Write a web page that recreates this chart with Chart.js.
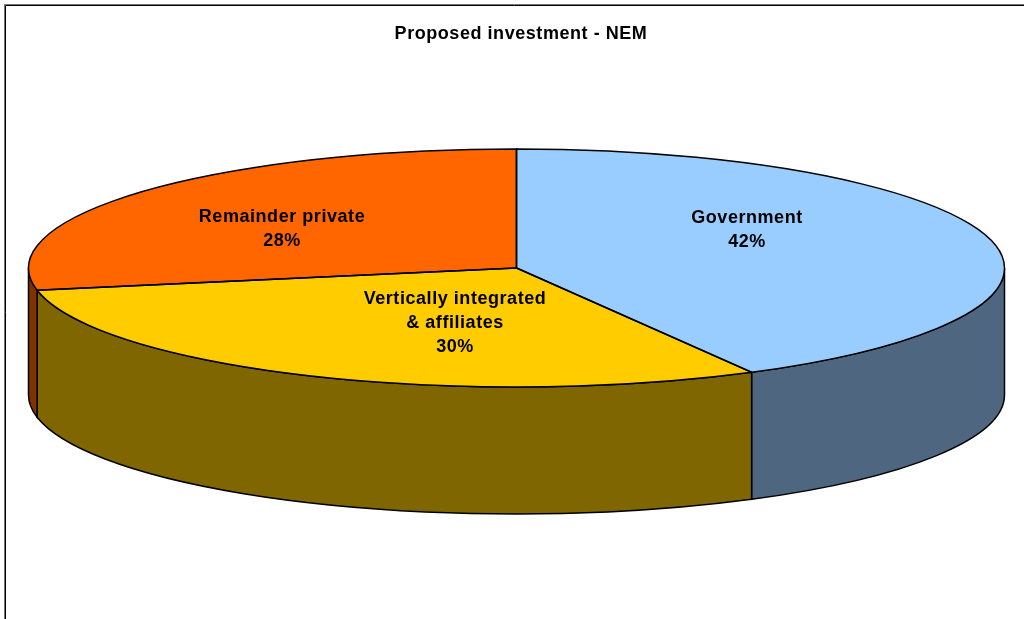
<!DOCTYPE html>
<html>
<head>
<meta charset="utf-8">
<style>
  html, body { margin: 0; padding: 0; background: #fff; }
  #wrap { width: 1024px; height: 619px; }
</style>
<script src="https://cdn.jsdelivr.net/npm/chart.js@4"></script>
</head>
<body>
<div id="wrap"><canvas id="pie" width="1024" height="619"></canvas></div>
<script>
const chartTitle = 'Proposed investment - NEM';
const categories = ['Government', 'Vertically integrated & affiliates', 'Remainder private'];
const shares = [42, 30, 28];
const labelLines = [['Government', '42%'], ['Vertically integrated', '& affiliates', '30%'], ['Remainder private', '28%']];
const topColors = ['#99CCFF', '#FFCC00', '#FF6600'];
const wallColors = ['#4F6680', '#806600', '#803300'];

// Tilted-disc geometry: the library lays the wedges out on a circle of this
// radius, and the plugins squash it vertically and extrude the rim downward.
const RADIUS = 488;
const SQUASH = 119 / 488;
const DEPTH = 127;
const LABEL_OFFSETS = [[230.5, -37.5], [-61.5, 55.5], [-234.5, -38.5]];
const LINE_GAP = 24;
const FONT = 'bold 18px "Liberation Sans", Arial, sans-serif';
const TRACKING = '0.55px';
const OUTLINE = 1.5;

const arcs = chart => chart.getDatasetMeta(0).data;

function wedgePath(ctx, a) {
  ctx.beginPath();
  ctx.moveTo(a.x, a.y);
  ctx.ellipse(a.x, a.y, RADIUS, RADIUS * SQUASH, 0, a.startAngle, a.endAngle);
  ctx.closePath();
}

// Only the rim between angle 0 and PI faces the viewer.
function wallPath(ctx, a, from, to) {
  const ry = RADIUS * SQUASH;
  ctx.beginPath();
  ctx.ellipse(a.x, a.y, RADIUS, ry, 0, from, to);
  ctx.lineTo(a.x + RADIUS * Math.cos(to), a.y + ry * Math.sin(to) + DEPTH);
  ctx.ellipse(a.x, a.y + DEPTH, RADIUS, ry, 0, to, from, true);
  ctx.closePath();
}

const framePlugin = {
  id: 'frame',
  afterLayout(chart) {
    // The heading sits a little right of the disc's centre.
    chart.titleBlock.left += 9;
  },
  beforeDraw(chart) {
    const ctx = chart.ctx;
    ctx.save();
    ctx.lineWidth = 1;
    ctx.strokeStyle = '#777';
    ctx.beginPath();
    ctx.moveTo(4.5, 619); ctx.lineTo(4.5, 4.5); ctx.lineTo(1024, 4.5);
    ctx.stroke();
    ctx.strokeStyle = '#000';
    ctx.beginPath();
    ctx.moveTo(5.5, 619); ctx.lineTo(5.5, 5.5); ctx.lineTo(1024, 5.5);
    ctx.stroke();
    ctx.restore();
    ctx.letterSpacing = TRACKING;
  }
};

const discPlugin = {
  id: 'disc',
  beforeDatasetsDraw(chart) {
    const ctx = chart.ctx;
    arcs(chart).forEach((a, i) => {
      const from = Math.max(a.startAngle, 0);
      const to = Math.min(a.endAngle, Math.PI);
      if (to <= from) return;
      ctx.save();
      wallPath(ctx, a, from, to);
      ctx.fillStyle = wallColors[i];
      ctx.strokeStyle = '#000';
      ctx.lineWidth = OUTLINE;
      ctx.fill();
      ctx.stroke();
      ctx.restore();
    });
    const first = arcs(chart)[0];
    ctx.save();
    ctx.translate(first.x, first.y);
    ctx.scale(1, SQUASH);
    ctx.translate(-first.x, -first.y);
  },
  afterDatasetsDraw(chart) {
    const ctx = chart.ctx;
    ctx.restore();
    arcs(chart).forEach(a => {
      ctx.save();
      wedgePath(ctx, a);
      ctx.strokeStyle = '#000';
      ctx.lineWidth = OUTLINE;
      ctx.stroke();
      ctx.restore();
    });
  }
};

const labelPlugin = {
  id: 'sliceLabels',
  afterDraw(chart) {
    const ctx = chart.ctx;
    ctx.save();
    ctx.font = FONT;
    ctx.fillStyle = '#000';
    ctx.textAlign = 'center';
    ctx.textBaseline = 'middle';
    arcs(chart).forEach((a, i) => {
      const lines = labelLines[i];
      const x = a.x + LABEL_OFFSETS[i][0];
      const top = a.y + LABEL_OFFSETS[i][1] - (lines.length - 1) * LINE_GAP / 2;
      lines.forEach((line, n) => ctx.fillText(line, x, top + n * LINE_GAP));
    });
    ctx.restore();
  }
};

new Chart(document.getElementById('pie'), {
  type: 'pie',
  data: {
    labels: categories,
    datasets: [{
      data: shares,
      backgroundColor: topColors,
      borderWidth: 0,
      hoverOffset: 0
    }]
  },
  options: {
    responsive: false,
    animation: false,
    radius: RADIUS,
    layout: { padding: { left: 9, right: 0, top: 0, bottom: 133 } },
    plugins: {
      legend: { display: false },
      tooltip: { enabled: false },
      title: {
        display: true,
        text: chartTitle,
        color: '#000',
        font: { family: '"Liberation Sans", Arial, sans-serif', size: 18, weight: 'bold', lineHeight: 1.2 },
        padding: { top: 23, bottom: 5.4 }
      }
    }
  },
  plugins: [framePlugin, discPlugin, labelPlugin]
});
</script>
</body>
</html>
